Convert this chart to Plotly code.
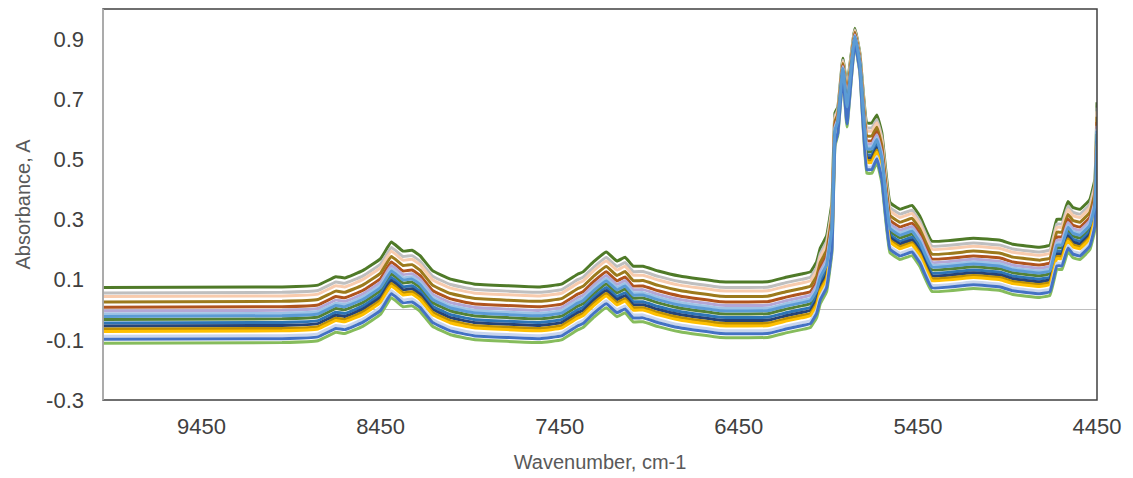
import plotly.graph_objects as go

# Wavenumber sampling points (cm-1)
wavenumber = [10000, 9000, 8800, 8700, 8650, 8550, 8450, 8390, 8325, 8275,
              8230, 8160, 8060, 7930, 7560, 7440, 7350, 7320, 7260, 7190,
              7130, 7085, 7040, 6985, 6900, 6780, 6550, 6290, 6180, 6100,
              6050, 6015, 5995, 5960, 5930, 5913, 5897, 5869, 5846, 5802,
              5774, 5735, 5707, 5679, 5651, 5606, 5550, 5483, 5439, 5372,
              5140, 4990, 4920, 4770, 4713, 4674, 4646, 4612, 4584, 4545,
              4490, 4462, 4450]

spectrum_01 = [0.074, 0.076, 0.082, 0.110, 0.106, 0.130, 0.170, 0.225, 0.195, 0.198, 0.180, 0.130, 0.102, 0.086, 0.076, 0.085, 0.118, 0.126, 0.160, 0.192, 0.162, 0.175, 0.145, 0.145, 0.129, 0.112, 0.093, 0.093, 0.109, 0.119, 0.126, 0.160, 0.205, 0.245,
               0.357, 0.655, 0.674, 0.836, 0.747, 0.936, 0.853, 0.621, 0.621, 0.648,
               0.588, 0.357, 0.334, 0.347, 0.311, 0.228, 0.238, 0.231, 0.218, 0.208, 0.215, 0.301, 0.301, 0.360, 0.340, 0.334, 0.367, 0.433, 0.690]
spectrum_02 = [0.056, 0.058, 0.064, 0.092, 0.088, 0.112, 0.152, 0.207, 0.177, 0.180, 0.162, 0.112, 0.084, 0.068, 0.058, 0.067, 0.100, 0.108, 0.142, 0.174, 0.144, 0.157, 0.127, 0.127, 0.111, 0.094, 0.075, 0.075, 0.091, 0.101, 0.108, 0.142, 0.187, 0.227,
               0.341, 0.644, 0.665, 0.830, 0.734, 0.931, 0.847, 0.605, 0.605, 0.633,
               0.572, 0.341, 0.318, 0.331, 0.295, 0.212, 0.222, 0.215, 0.202, 0.192, 0.199, 0.285, 0.285, 0.344, 0.324, 0.318, 0.351, 0.417, 0.672]
spectrum_03 = [0.044, 0.046, 0.052, 0.080, 0.076, 0.100, 0.140, 0.195, 0.165, 0.168, 0.150, 0.100, 0.072, 0.056, 0.046, 0.055, 0.088, 0.096, 0.130, 0.162, 0.132, 0.145, 0.115, 0.115, 0.099, 0.082, 0.063, 0.063, 0.079, 0.089, 0.096, 0.130, 0.175, 0.215,
               0.330, 0.637, 0.659, 0.825, 0.724, 0.928, 0.842, 0.594, 0.594, 0.622,
               0.561, 0.330, 0.307, 0.320, 0.284, 0.201, 0.211, 0.204, 0.191, 0.181, 0.188, 0.274, 0.274, 0.333, 0.313, 0.307, 0.340, 0.406, 0.660]
spectrum_04 = [0.026, 0.028, 0.034, 0.062, 0.058, 0.082, 0.122, 0.177, 0.147, 0.150, 0.132, 0.082, 0.054, 0.038, 0.028, 0.037, 0.070, 0.078, 0.112, 0.144, 0.114, 0.127, 0.097, 0.097, 0.081, 0.064, 0.045, 0.045, 0.061, 0.071, 0.078, 0.112, 0.157, 0.197,
               0.314, 0.626, 0.650, 0.819, 0.711, 0.923, 0.836, 0.578, 0.578, 0.607,
               0.545, 0.314, 0.291, 0.304, 0.268, 0.185, 0.195, 0.188, 0.175, 0.165, 0.172, 0.258, 0.258, 0.317, 0.297, 0.291, 0.324, 0.390, 0.642]
spectrum_05 = [0.008, 0.010, 0.016, 0.044, 0.040, 0.064, 0.104, 0.159, 0.129, 0.132, 0.114, 0.064, 0.036, 0.020, 0.010, 0.019, 0.052, 0.060, 0.094, 0.126, 0.096, 0.109, 0.079, 0.079, 0.063, 0.046, 0.027, 0.027, 0.043, 0.053, 0.060, 0.094, 0.139, 0.179,
               0.298, 0.615, 0.641, 0.813, 0.697, 0.918, 0.830, 0.562, 0.562, 0.592,
               0.529, 0.298, 0.275, 0.288, 0.252, 0.169, 0.179, 0.172, 0.159, 0.149, 0.156, 0.242, 0.242, 0.301, 0.281, 0.275, 0.308, 0.374, 0.624]
spectrum_06 = [-0.004, -0.002, 0.004, 0.032, 0.028, 0.052, 0.092, 0.147, 0.117, 0.120, 0.102, 0.052, 0.024, 0.008, -0.002, 0.007, 0.040, 0.048, 0.082, 0.114, 0.084, 0.097, 0.067, 0.067, 0.051, 0.034, 0.015, 0.015, 0.031, 0.041, 0.048, 0.082, 0.127, 0.167,
               0.287, 0.608, 0.635, 0.809, 0.688, 0.914, 0.826, 0.551, 0.551, 0.582,
               0.518, 0.287, 0.264, 0.277, 0.241, 0.158, 0.168, 0.161, 0.148, 0.138, 0.145, 0.231, 0.231, 0.290, 0.270, 0.264, 0.297, 0.363, 0.612]
spectrum_07 = [-0.014, -0.012, -0.006, 0.022, 0.018, 0.042, 0.082, 0.137, 0.107, 0.110, 0.092, 0.042, 0.014, -0.002, -0.012, -0.003, 0.030, 0.038, 0.072, 0.104, 0.074, 0.087, 0.057, 0.057, 0.041, 0.024, 0.005, 0.005, 0.021, 0.031, 0.038, 0.072, 0.117, 0.157,
               0.278, 0.602, 0.630, 0.805, 0.681, 0.911, 0.822, 0.542, 0.542, 0.573,
               0.509, 0.278, 0.255, 0.268, 0.232, 0.149, 0.159, 0.152, 0.139, 0.129, 0.136, 0.222, 0.222, 0.281, 0.261, 0.255, 0.288, 0.354, 0.602]
spectrum_08 = [-0.022, -0.020, -0.014, 0.014, 0.010, 0.034, 0.074, 0.129, 0.099, 0.102, 0.084, 0.034, 0.006, -0.010, -0.020, -0.011, 0.022, 0.030, 0.064, 0.096, 0.066, 0.079, 0.049, 0.049, 0.033, 0.016, -0.003, -0.003, 0.013, 0.023, 0.030, 0.064, 0.109, 0.149,
               0.271, 0.597, 0.626, 0.802, 0.675, 0.909, 0.819, 0.535, 0.535, 0.566,
               0.502, 0.271, 0.248, 0.261, 0.225, 0.142, 0.152, 0.145, 0.132, 0.122, 0.129, 0.215, 0.215, 0.274, 0.254, 0.248, 0.281, 0.347, 0.594]
spectrum_09 = [-0.032, -0.030, -0.024, 0.004, 0.000, 0.024, 0.064, 0.119, 0.089, 0.092, 0.074, 0.024, -0.004, -0.020, -0.030, -0.021, 0.012, 0.020, 0.054, 0.086, 0.056, 0.069, 0.039, 0.039, 0.023, 0.006, -0.013, -0.013, 0.003, 0.013, 0.020, 0.054, 0.099, 0.139,
               0.262, 0.591, 0.621, 0.799, 0.667, 0.906, 0.816, 0.526, 0.526, 0.558,
               0.493, 0.262, 0.239, 0.252, 0.216, 0.133, 0.143, 0.136, 0.123, 0.113, 0.120, 0.206, 0.206, 0.265, 0.245, 0.239, 0.272, 0.338, 0.584]
spectrum_10 = [-0.044, -0.042, -0.036, -0.008, -0.012, 0.012, 0.052, 0.107, 0.077, 0.080, 0.062, 0.012, -0.016, -0.032, -0.042, -0.033, 0.000, 0.008, 0.042, 0.074, 0.044, 0.057, 0.027, 0.027, 0.011, -0.006, -0.025, -0.025, -0.009, 0.001, 0.008, 0.042, 0.087, 0.127,
               0.251, 0.584, 0.615, 0.795, 0.658, 0.903, 0.812, 0.515, 0.515, 0.548,
               0.482, 0.251, 0.228, 0.241, 0.205, 0.122, 0.132, 0.125, 0.112, 0.102, 0.109, 0.195, 0.195, 0.254, 0.234, 0.228, 0.261, 0.327, 0.572]
spectrum_11 = [-0.054, -0.052, -0.046, -0.018, -0.022, 0.002, 0.042, 0.097, 0.067, 0.070, 0.052, 0.002, -0.026, -0.042, -0.052, -0.043, -0.010, -0.002, 0.032, 0.064, 0.034, 0.047, 0.017, 0.017, 0.001, -0.016, -0.035, -0.035, -0.019, -0.009, -0.002, 0.032, 0.077, 0.117,
               0.242, 0.578, 0.610, 0.791, 0.651, 0.900, 0.808, 0.506, 0.506, 0.539,
               0.473, 0.242, 0.219, 0.232, 0.196, 0.113, 0.123, 0.116, 0.103, 0.093, 0.100, 0.186, 0.186, 0.245, 0.225, 0.219, 0.252, 0.318, 0.562]
spectrum_12 = [-0.064, -0.062, -0.056, -0.028, -0.032, -0.008, 0.032, 0.087, 0.057, 0.060, 0.042, -0.008, -0.036, -0.052, -0.062, -0.053, -0.020, -0.012, 0.022, 0.054, 0.024, 0.037, 0.007, 0.007, -0.009, -0.026, -0.045, -0.045, -0.029, -0.019, -0.012, 0.022, 0.067, 0.107,
               0.233, 0.572, 0.605, 0.788, 0.643, 0.897, 0.805, 0.497, 0.497, 0.531,
               0.464, 0.233, 0.210, 0.223, 0.187, 0.104, 0.114, 0.107, 0.094, 0.084, 0.091, 0.177, 0.177, 0.236, 0.216, 0.210, 0.243, 0.309, 0.552]
spectrum_13 = [-0.072, -0.070, -0.064, -0.036, -0.040, -0.016, 0.024, 0.079, 0.049, 0.052, 0.034, -0.016, -0.044, -0.060, -0.070, -0.061, -0.028, -0.020, 0.014, 0.046, 0.016, 0.029, -0.001, -0.001, -0.017, -0.034, -0.053, -0.053, -0.037, -0.027, -0.020, 0.014, 0.059, 0.099,
               0.226, 0.567, 0.601, 0.785, 0.637, 0.895, 0.802, 0.490, 0.490, 0.524,
               0.457, 0.226, 0.203, 0.216, 0.180, 0.097, 0.107, 0.100, 0.087, 0.077, 0.084, 0.170, 0.170, 0.229, 0.209, 0.203, 0.236, 0.302, 0.544]
spectrum_14 = [-0.088, -0.086, -0.080, -0.052, -0.056, -0.032, 0.008, 0.063, 0.033, 0.036, 0.018, -0.032, -0.060, -0.076, -0.086, -0.077, -0.044, -0.036, -0.002, 0.030, 0.000, 0.013, -0.017, -0.017, -0.033, -0.050, -0.069, -0.069, -0.053, -0.043, -0.036, -0.002, 0.043, 0.083,
               0.211, 0.558, 0.593, 0.779, 0.625, 0.891, 0.796, 0.475, 0.475, 0.510,
               0.442, 0.211, 0.188, 0.201, 0.165, 0.082, 0.092, 0.085, 0.072, 0.062, 0.069, 0.155, 0.155, 0.214, 0.194, 0.188, 0.221, 0.287, 0.528]
spectrum_15 = [-0.098, -0.096, -0.090, -0.062, -0.066, -0.042, -0.002, 0.053, 0.023, 0.026, 0.008, -0.042, -0.070, -0.086, -0.096, -0.087, -0.054, -0.046, -0.012, 0.020, -0.010, 0.003, -0.027, -0.027, -0.043, -0.060, -0.079, -0.079, -0.063, -0.053, -0.046, -0.012, 0.033, 0.073,
               0.202, 0.552, 0.588, 0.776, 0.618, 0.888, 0.793, 0.466, 0.466, 0.502,
               0.433, 0.202, 0.179, 0.192, 0.156, 0.073, 0.083, 0.076, 0.063, 0.053, 0.060, 0.146, 0.146, 0.205, 0.185, 0.179, 0.212, 0.278, 0.518]
spectrum_16 = [-0.111, -0.109, -0.103, -0.075, -0.079, -0.055, -0.015, 0.040, 0.010, 0.013, -0.005, -0.055, -0.083, -0.099, -0.109, -0.100, -0.067, -0.059, -0.025, 0.007, -0.023, -0.010, -0.040, -0.040, -0.056, -0.073, -0.092, -0.092, -0.076, -0.066, -0.059, -0.025, 0.020, 0.060,
               0.190, 0.544, 0.581, 0.771, 0.608, 0.884, 0.788, 0.454, 0.454, 0.491,
               0.421, 0.190, 0.167, 0.180, 0.144, 0.061, 0.071, 0.064, 0.051, 0.041, 0.048, 0.134, 0.134, 0.193, 0.173, 0.167, 0.200, 0.266, 0.505]

spectra = [spectrum_16, spectrum_01, spectrum_02, spectrum_03, spectrum_04, spectrum_05,
           spectrum_06, spectrum_07, spectrum_09, spectrum_10, spectrum_11, spectrum_12,
           spectrum_13, spectrum_14, spectrum_15, spectrum_08]
colors = ["#86BC5C", "#4F7A28", "#BFBFBF", "#F8CBAD", "#9C7A1C", "#B0541E",
          "#B4A7D6", "#9DC3E6", "#548235", "#2E75B6", "#264478", "#BF9000",
          "#FFC000", "#C9D6EE", "#4472C4", "#5B9BD5"]

x_tick_vals = [9450, 8450, 7450, 6450, 5450, 4450]
x_tick_text = ["9450", "8450", "7450", "6450", "5450", "4450"]
y_tick_vals = [-0.3, -0.1, 0.1, 0.3, 0.5, 0.7, 0.9]
y_tick_text = ["-0.3", "-0.1", "0.1", "0.3", "0.5", "0.7", "0.9"]

fig = go.Figure()
for spec, col in zip(spectra, colors):
    fig.add_trace(go.Scatter(x=wavenumber, y=spec, mode="lines",
                             line=dict(color=col, width=3, shape="spline", smoothing=0.3),
                             showlegend=False, hoverinfo="skip"))

font_family = "Liberation Sans, Arial, sans-serif"
fig.update_layout(
    width=1133, height=478,
    margin=dict(l=103, r=36, t=9, b=76),
    paper_bgcolor="white", plot_bgcolor="white",
    font=dict(family=font_family, size=22, color="#404040"),
    xaxis=dict(range=[10000, 4450], tickvals=x_tick_vals, ticktext=x_tick_text,
               showgrid=False, zeroline=False, showline=False, ticks="",
               ticklabelstandoff=11,
               tickfont=dict(size=22, color="#404040"),
               title=dict(text="Wavenumber, cm-1", standoff=16,
                          font=dict(size=20, color="#595959"))),
    yaxis=dict(range=[-0.3, 1.0], tickvals=y_tick_vals, ticktext=y_tick_text,
               showgrid=False, zeroline=True, zerolinecolor="#BFBFBF", zerolinewidth=1,
               showline=False, ticks="", ticklabelstandoff=18,
               tickfont=dict(size=22, color="#404040"),
               title=dict(text="Absorbance, A", standoff=10,
                          font=dict(size=20, color="#595959"))),
    shapes=[
        dict(type="rect", xref="paper", yref="paper", x0=0, x1=1, y0=0, y1=1,
             line=dict(color="#404040", width=1.5), layer="above"),
        dict(type="line", xref="paper", yref="paper", x0=0, x1=0, y0=0, y1=1,
             line=dict(color="#BFBFBF", width=1.5), layer="above"),
    ],
)

fig.write_html("out.html")
